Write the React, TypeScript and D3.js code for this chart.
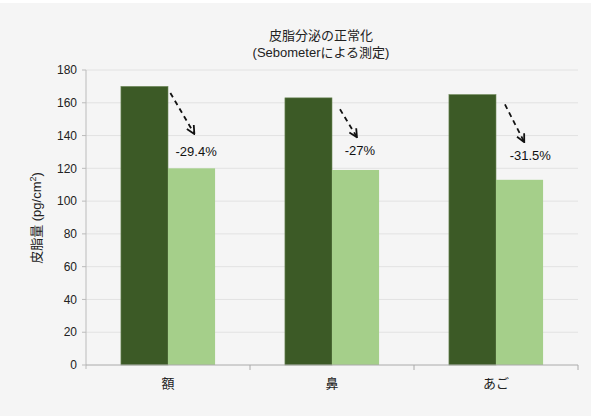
import React, { useEffect, useRef } from 'react'
import * as d3 from 'd3'

// 部位、施術前、施術後
const categories = ['額', '鼻', 'あご']
const before = [170, 163, 165]
const after = [120, 119, 113]
const changeLabels = ['-29.4%', '-27%', '-31.5%']
// 矢印の始点・終点（皮脂量の値で）
const arrowFrom = [166, 156, 159]
const arrowTo = [141, 139, 136]
const labelAt = [130, 131, 128]
const yTicks = [0, 20, 40, 60, 80, 100, 120, 140, 160, 180]

const FONT = '"Liberation Sans", Arial, "Noto Sans CJK JP", sans-serif'

const App = () => {
    const ref = useRef<SVGSVGElement>(null)

    const drawChart = () => {
        const w = 591, h = 416
        const left = 86, right = 578, top = 70, bottom = 365
        const svg = d3.select(ref.current)
        svg.selectAll('*').remove()

        svg.append('rect').attr('width', w).attr('height', h).attr('fill', '#f5f5f5')
        svg.append('rect').attr('width', w).attr('height', 3).attr('fill', '#ffffff')

        const x = d3.scaleBand().domain(categories).range([left, right])
        const y = d3.scaleLinear().domain([0, 180]).range([bottom, top])
        const barW = x.bandwidth() * 0.287

        // グリッド
        svg.append('g').selectAll('line').data(yTicks.slice(1)).join('line')
            .attr('x1', left).attr('x2', right)
            .attr('y1', d => y(d)).attr('y2', d => y(d))
            .attr('stroke', '#e2e2e2')

        // 棒
        svg.append('g').selectAll('rect').data(categories).join('rect')
            .attr('x', d => (x(d) ?? 0) + x.bandwidth() / 2 - barW)
            .attr('y', (d, i) => y(before[i]))
            .attr('width', barW)
            .attr('height', (d, i) => bottom - y(before[i]))
            .attr('fill', '#3c5a26')
            .attr('stroke', '#6f8a5a').attr('stroke-width', 0.6)
        svg.append('g').selectAll('rect').data(categories).join('rect')
            .attr('x', d => (x(d) ?? 0) + x.bandwidth() / 2)
            .attr('y', (d, i) => y(after[i]))
            .attr('width', barW)
            .attr('height', (d, i) => bottom - y(after[i]))
            .attr('fill', '#a5cf8a')

        // 軸
        const yAxis = svg.append('g')
        yAxis.append('line').attr('x1', left).attr('x2', left).attr('y1', top).attr('y2', bottom + 4)
            .attr('stroke', '#bbbbbb')
        yAxis.selectAll('line.tick').data(yTicks).join('line').attr('class', 'tick')
            .attr('x1', left - 4).attr('x2', left)
            .attr('y1', d => y(d)).attr('y2', d => y(d))
            .attr('stroke', '#bbbbbb')
        yAxis.selectAll('text').data(yTicks).join('text')
            .attr('x', left - 9).attr('y', d => y(d)).attr('dy', '0.35em')
            .attr('text-anchor', 'end').attr('font-size', 12).attr('fill', '#222')
            .attr('font-family', FONT)
            .text(d => d)

        const xAxis = svg.append('g')
        xAxis.append('line').attr('x1', left).attr('x2', right).attr('y1', bottom).attr('y2', bottom)
            .attr('stroke', '#aaaaaa')
        const bounds = categories.map(c => (x(c) ?? 0)).concat([right])
        xAxis.selectAll('line.tick').data(bounds.slice(1)).join('line').attr('class', 'tick')
            .attr('x1', d => d).attr('x2', d => d).attr('y1', bottom).attr('y2', bottom + 5)
            .attr('stroke', '#aaaaaa')
        xAxis.selectAll('text').data(categories).join('text')
            .attr('x', d => (x(d) ?? 0) + x.bandwidth() / 2).attr('y', bottom + 18).attr('dy', '0.35em')
            .attr('text-anchor', 'middle').attr('font-size', 13).attr('fill', '#222')
            .attr('font-family', FONT)
            .text(d => d)

        // 矢印
        const defs = svg.append('defs')
        defs.append('marker').attr('id', 'arr').attr('viewBox', '0 0 10 10')
            .attr('refX', 9).attr('refY', 5).attr('markerWidth', 10).attr('markerHeight', 10)
            .attr('markerUnits', 'userSpaceOnUse').attr('orient', 'auto')
            .append('path').attr('d', 'M1,1 L9,5 L1,9').attr('fill', 'none')
            .attr('stroke', '#111').attr('stroke-width', 1.8)
        const ax = (c: string, f: number) => (x(c) ?? 0) + x.bandwidth() / 2 + barW * f
        svg.append('g').selectAll('line').data(categories).join('line')
            .attr('x1', (d, i) => ax(d, [0.05, 0.17, 0.19][i]))
            .attr('y1', (d, i) => y(arrowFrom[i]))
            .attr('x2', (d, i) => ax(d, [0.56, 0.53, 0.6][i]))
            .attr('y2', (d, i) => y(arrowTo[i]))
            .attr('stroke', '#111').attr('stroke-width', 1.8)
            .attr('stroke-dasharray', '5,4')
            .attr('marker-end', 'url(#arr)')

        svg.append('g').selectAll('text').data(categories).join('text')
            .attr('x', (d, i) => ax(d, [0.16, 0.27, 0.29][i]))
            .attr('y', (d, i) => y(labelAt[i])).attr('dy', '0.35em')
            .attr('font-size', 13).attr('fill', '#111').attr('font-family', FONT)
            .text((d, i) => changeLabels[i])

        // タイトル
        const title = svg.append('text').attr('text-anchor', 'middle')
            .attr('font-size', 13).attr('fill', '#222').attr('font-family', FONT)
        title.append('tspan').attr('x', 321).attr('y', 40).text('皮脂分泌の正常化')
        title.append('tspan').attr('x', 321).attr('y', 57).text('(Sebometerによる測定)')

        // 縦軸タイトル
        const yl = svg.append('text').attr('transform', 'translate(41,218) rotate(-90)')
            .attr('text-anchor', 'middle').attr('font-size', 13).attr('fill', '#222')
            .attr('font-family', FONT)
        yl.append('tspan').text('皮脂量 (pg/cm')
        yl.append('tspan').attr('font-size', 9).attr('dy', -5).text('2')
        yl.append('tspan').attr('dy', 5).text(')')
    }

    useEffect(() => {
        drawChart()
    }, [])

    return (<svg ref={ref} width={591} height={416}
        style={{ position: 'absolute', left: 0, top: 0, display: 'block' }} />)
}

export default App
